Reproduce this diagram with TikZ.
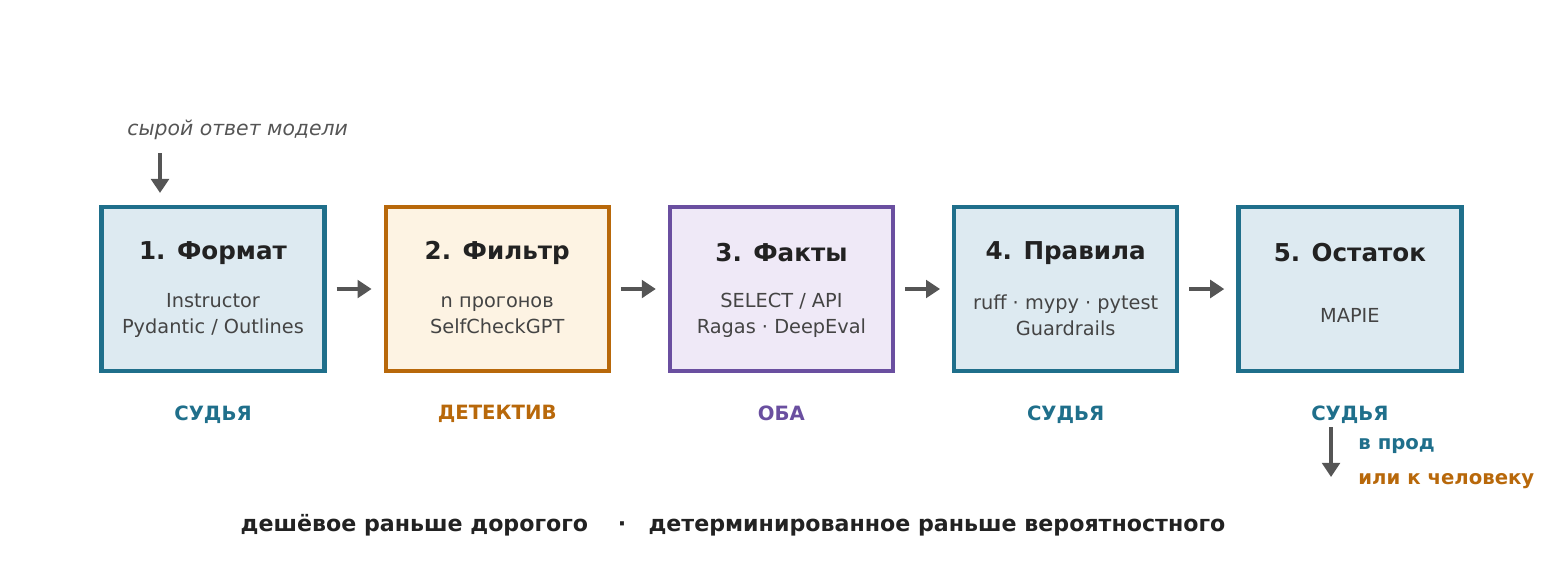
\documentclass[tikz,border=0pt]{standalone}
\usepackage{fontspec}
\setmainfont{DejaVu Sans}
\usepackage{tikz}
\usetikzlibrary{positioning,calc,arrows.meta}
\definecolor{tealc}{HTML}{1F6F8B}
\definecolor{tealf}{HTML}{DDEAF1}
\definecolor{orgc}{HTML}{B8680A}
\definecolor{orgf}{HTML}{FDF3E3}
\definecolor{purc}{HTML}{6A4FA0}
\definecolor{purf}{HTML}{EFE9F7}
\definecolor{arrc}{HTML}{555555}
\definecolor{txtc}{HTML}{222222}
\definecolor{subc}{HTML}{444444}
\tikzset{
	stage/.style={minimum width=2.23cm,minimum height=1.64cm,line width=1.2pt,inner sep=0pt},
	ttl/.style={font=\fontsize{7}{8}\selectfont\bfseries,text=txtc},
	sub/.style={font=\fontsize{5.5}{7.4}\selectfont,text=subc,align=center},
	role/.style={font=\fontsize{5.6}{7}\selectfont\bfseries},
	flow/.style={-{Triangle[length=4pt,width=5pt]},line width=1.4pt,draw=arrc},
}
\begin{document}
\begin{tikzpicture}
	\useasboundingbox (0,0) rectangle (15.6,5.79);
	\node[stage,draw=tealc,fill=tealf] (s1) at (2.13,2.90) {};
	\node[stage,draw=orgc,fill=orgf,right=0.57cm of s1] (s2) {};
	\node[stage,draw=purc,fill=purf,right=0.57cm of s2] (s3) {};
	\node[stage,draw=tealc,fill=tealf,right=0.57cm of s3] (s4) {};
	\node[stage,draw=tealc,fill=tealf,right=0.57cm of s4] (s5) {};
	
	\node[ttl] (t1) at ($(s1)+(0,0.36)$) {1. Формат};
	\node[ttl] (t2) at ($(s2)+(0,0.36)$) {2. Фильтр};
	\node[ttl] (t3) at ($(s3)+(0,0.36)$) {3. Факты};
	\node[ttl] (t4) at ($(s4)+(0,0.36)$) {4. Правила};
	\node[ttl] (t5) at ($(s5)+(0,0.36)$) {5. Остаток};
	
	\node[sub] (d1) at ($(s1)+(0,-0.26)$) {Instructor\\Pydantic / Outlines};
	\node[sub] (d2) at ($(s2)+(0,-0.26)$) {n прогонов\\SelfCheckGPT};
	\node[sub] (d3) at ($(s3)+(0,-0.26)$) {SELECT / API\\Ragas · DeepEval};
	\node[sub] (d4) at ($(s4)+(0,-0.26)$) {ruff · mypy · pytest\\Guardrails};
	\node[sub] (d5) at ($(s5)+(0,-0.26)$) {MAPIE};
	
	\node[role,text=tealc,below=0.2cm of s1] (r1) {СУДЬЯ};
	\node[role,text=orgc,below=0.2cm of s2] (r2) {ДЕТЕКТИВ};
	\node[role,text=purc,below=0.2cm of s3] (r3) {ОБА};
	\node[role,text=tealc,below=0.2cm of s4] (r4) {СУДЬЯ};
	\node[role,text=tealc,below=0.2cm of s5] (r5) {СУДЬЯ};
	
	\draw[flow] ([xshift=0.1cm]s1.east)--([xshift=-0.12cm]s2.west);
	\draw[flow] ([xshift=0.1cm]s2.east)--([xshift=-0.12cm]s3.west);
	\draw[flow] ([xshift=0.1cm]s3.east)--([xshift=-0.12cm]s4.west);
	\draw[flow] ([xshift=0.1cm]s4.east)--([xshift=-0.12cm]s5.west);
	
	% input and output
	\node[anchor=west,font=\fontsize{5.8}{7}\selectfont\itshape,text=arrc] (raw) at (1.15,4.49) {сырой ответ модели};
	\coordinate (rawend) at (1.60,3.86);
	\draw[flow] (1.60,4.26)--(rawend);
	\coordinate (outtop) at (13.31,1.52);
	\coordinate (outend) at (13.31,1.02);
	\draw[flow] (outtop)--(outend);
	\node[role,text=tealc,anchor=west] (prod) at (13.46,1.33) {в прод};
	\node[role,text=orgc,anchor=west] (human) at (13.46,0.98) {или к человеку};
	
	\node[font=\fontsize{6.3}{8}\selectfont\bfseries,text=txtc] (motto) at (7.33,0.54) {дешёвое раньше дорогого \quad·\quad детерминированное раньше вероятностного};
\end{tikzpicture}
\end{document}
